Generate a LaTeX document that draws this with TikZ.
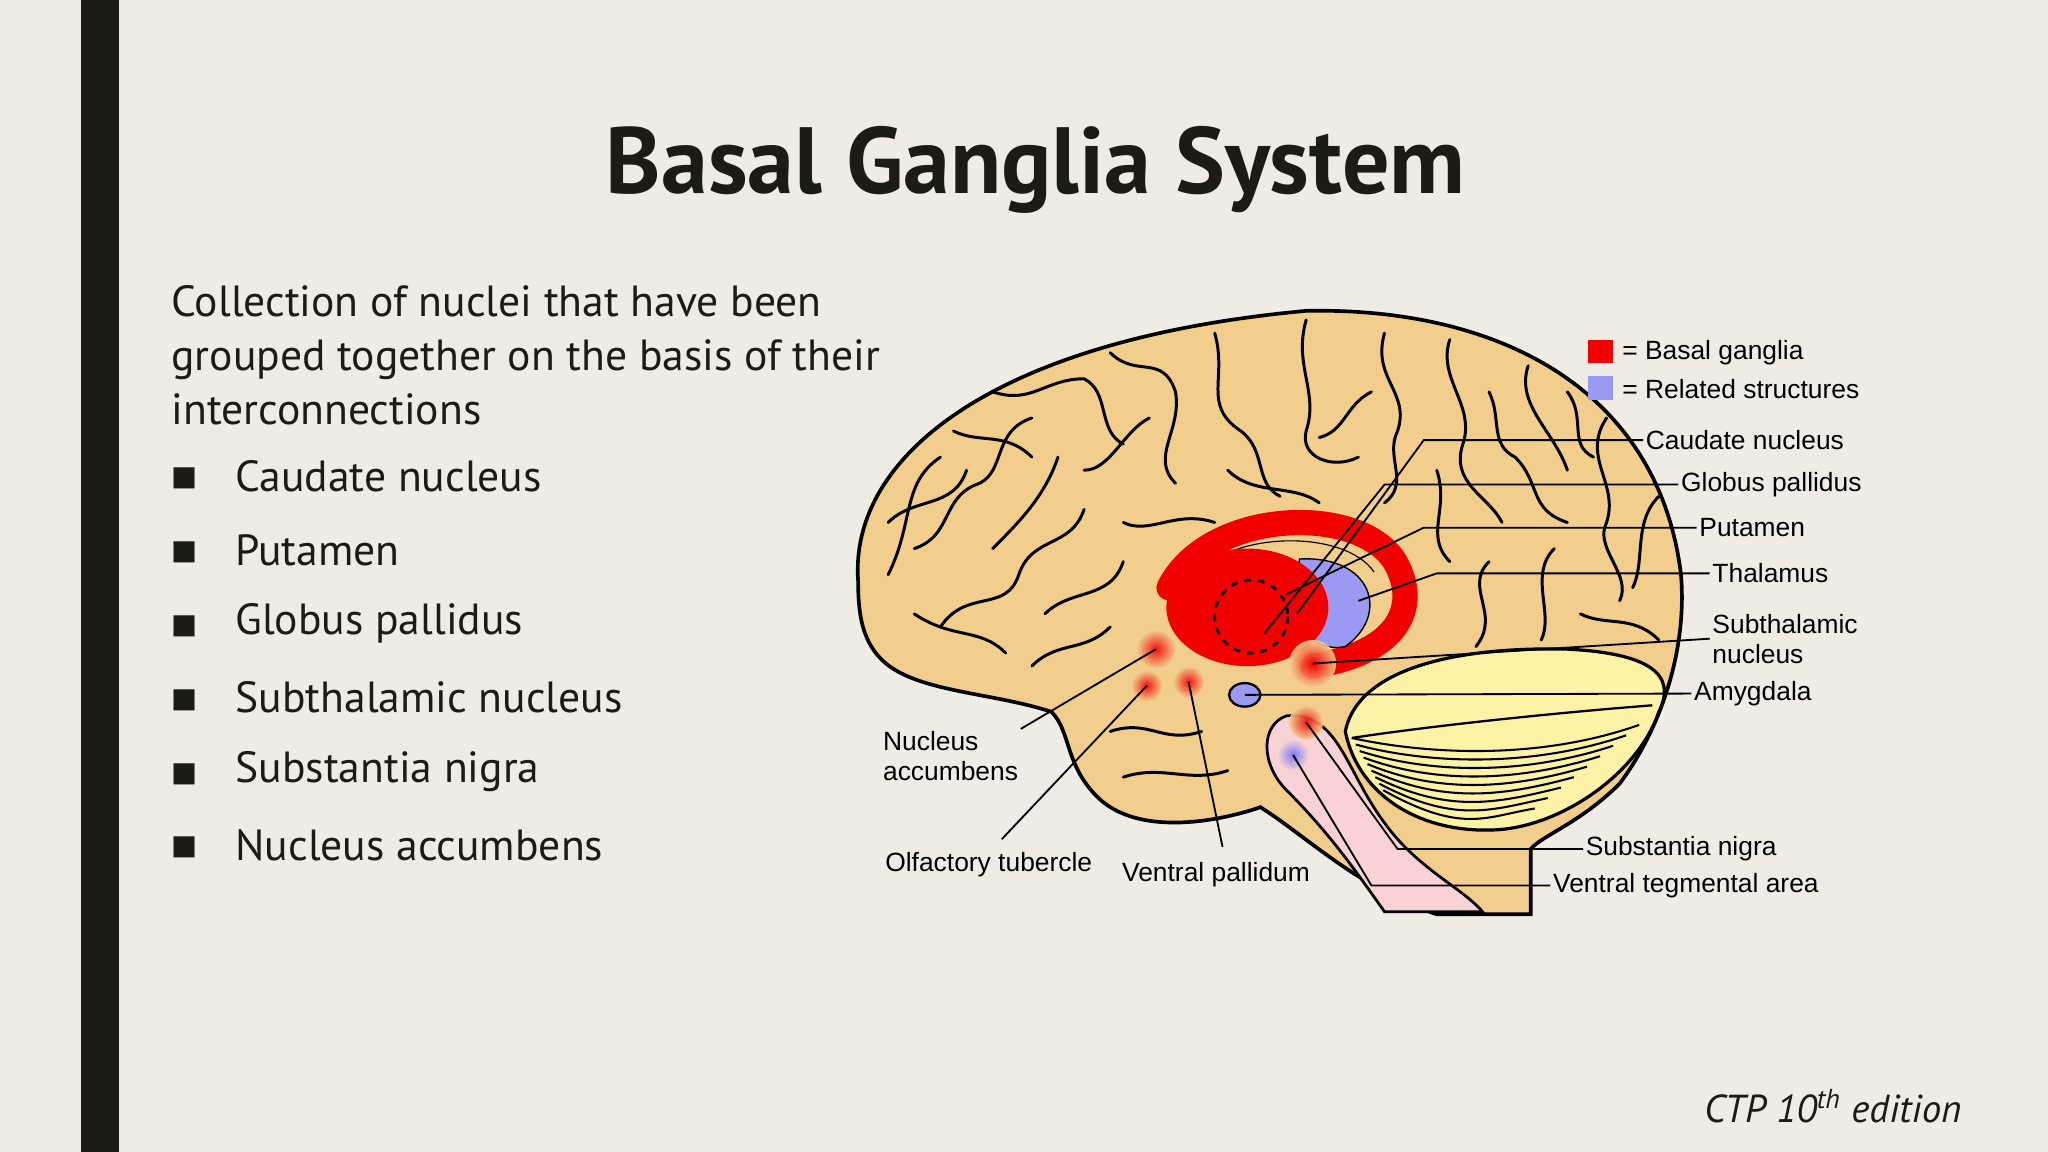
\documentclass[tikz,border=0pt]{standalone}
\usepackage{fontspec}
\setmainfont{PT Sans}
\newfontfamily\lab{Liberation Sans}
\newfontfamily\dv{DejaVu Sans}
\definecolor{bg}{HTML}{EFECE6}
\definecolor{tan}{HTML}{F2CE8C}
\definecolor{cbl}{HTML}{FDF3A6}
\definecolor{stem}{HTML}{F8D2D4}
\definecolor{bgred}{HTML}{F20000}
\definecolor{rblue}{HTML}{9A9AF2}
\definecolor{ink}{HTML}{1C1C14}
\begin{document}
\begin{tikzpicture}[x=0.02cm,y=-0.02cm,
  body/.style={anchor=west,font=\fontsize{19}{23.5}\selectfont,text=ink,inner sep=0},
  lbl/.style={font=\lab\fontsize{11.5}{13}\selectfont,inner sep=1pt},
  gy/.style={line width=1.3pt,line cap=round,line join=round},
  ll/.style={line width=0.8pt}]
\fill[bg] (0,0) rectangle (1568,882);
\useasboundingbox (0,0) rectangle (1568,882);
\fill[ink] (62,0) rectangle (91,882);
\node[font=\fontsize{41}{46}\bfseries\selectfont,text=ink] (title) at (793,130) {Basal Ganglia System};
\node[body,align=left,anchor=north west] (intro) at (131,218) {Collection of nuclei that have been\\grouped together on the basis of their\\interconnections};
\foreach \t [count=\i] in {Caudate nucleus,Putamen,Globus pallidus,Subthalamic nucleus,Substantia nigra,Nucleus accumbens}{
  \node[body] (b\i) at (180,308+56.5*\i) {\t};
  \node[anchor=center,text=ink,font=\dv\fontsize{12}{12}\selectfont] (m\i) at (141,310+56.5*\i) {■};
}
\node[font=\itshape\fontsize{17}{20}\selectfont,anchor=east,text=ink] (foot) at (1508,847) {CTP 10\textsuperscript{th} edition};
% brain
\draw[fill=tan,line width=1.6pt] (657,445) .. controls (650,350) and (760,260) .. (1000,238)
 .. controls (1150,235) and (1270,300) .. (1287,440) .. controls (1292,500) and (1270,560) .. (1240,600)
 .. controls (1210,630) and (1180,640) .. (1172,650) -- (1172,700) -- (1100,700)
 .. controls (1040,680) and (1000,640) .. (965,618) .. controls (930,630) and (870,640) .. (840,610)
 .. controls (815,585) and (820,560) .. (805,545) .. controls (760,530) and (700,530) .. (675,505)
 .. controls (660,490) and (657,470) .. (657,445) -- cycle;
% gyri
\foreach \p in {
 {(680,440) .. controls (700,400) and (690,370) .. (720,350)},
 {(700,420) .. controls (730,410) and (720,380) .. (750,370) .. controls (770,360) and (760,330) .. (790,320)},
 {(720,480) .. controls (740,450) and (770,470) .. (780,440) .. controls (790,410) and (820,420) .. (830,390)},
 {(760,300) .. controls (790,310) and (800,290) .. (830,290) .. controls (850,300) and (840,330) .. (860,340)},
 {(850,270) .. controls (870,290) and (890,270) .. (900,300) .. controls (905,330) and (880,350) .. (900,370)},
 {(930,255) .. controls (940,290) and (920,310) .. (950,330) .. controls (970,345) and (960,370) .. (980,380)},
 {(1000,245) .. controls (990,280) and (1010,300) .. (1000,330) .. controls (995,350) and (1020,360) .. (1040,350)},
 {(1060,255) .. controls (1050,290) and (1080,300) .. (1070,330) .. controls (1060,350) and (1080,370) .. (1060,385)},
 {(1110,260) .. controls (1100,290) and (1130,310) .. (1120,340) .. controls (1110,370) and (1140,380) .. (1150,400)},
 {(1170,280) .. controls (1160,310) and (1190,330) .. (1200,360)},
 {(1230,320) .. controls (1210,350) and (1240,370) .. (1230,400) .. controls (1220,420) and (1250,440) .. (1240,460)},
 {(1270,380) .. controls (1250,400) and (1260,430) .. (1250,450)},
 {(1190,420) .. controls (1170,440) and (1190,470) .. (1180,490)},
 {(1140,430) .. controls (1120,450) and (1150,470) .. (1130,495)},
 {(700,470) .. controls (730,490) and (750,480) .. (770,500)},
 {(800,470) .. controls (820,450) and (850,460) .. (860,430)},
 {(860,400) .. controls (880,410) and (900,390) .. (930,400)},
 {(1100,360) .. controls (1110,390) and (1090,410) .. (1110,430)},
 {(1160,350) .. controls (1180,370) and (1170,390) .. (1200,400)},
 {(1210,470) .. controls (1230,480) and (1250,470) .. (1270,490)},
 {(850,560) .. controls (880,550) and (890,570) .. (920,560)},
 {(860,595) .. controls (890,585) and (910,600) .. (940,590)},
 {(730,330) .. controls (750,340) and (770,330) .. (790,350)},
 {(880,320) .. controls (860,330) and (850,360) .. (830,360)},
 {(680,400) .. controls (700,380) and (730,390) .. (740,360)},
 {(760,420) .. controls (780,400) and (800,380) .. (810,350)},
 {(940,360) .. controls (960,380) and (990,370) .. (1010,385)},
 {(1140,300) .. controls (1150,320) and (1140,340) .. (1160,350)},
 {(1200,300) .. controls (1215,320) and (1200,340) .. (1220,350)},
 {(790,510) .. controls (810,490) and (830,500) .. (850,480)},
 {(1050,300) .. controls (1030,310) and (1030,330) .. (1010,335)}
}{\draw[gy] \p;}
% cerebellum
\draw[fill=cbl,line width=1.4pt] (1030,560) .. controls (1040,510) and (1120,495) .. (1200,497)
 .. controls (1260,500) and (1285,515) .. (1270,545) .. controls (1255,590) and (1200,630) .. (1150,635)
 .. controls (1090,640) and (1040,610) .. (1030,560) -- cycle;
\foreach \k in {0,...,8}{\draw[line width=0.9pt] (1035+\k*3,565+\k*5) .. controls (1080+\k*5,575+\k*8) and (1170-\k*4,585+\k*5) .. (1255-\k*10,555+\k*8);}
\draw[line width=1pt] (1035,565) .. controls (1100,555) and (1200,545) .. (1265,540);
% brainstem
\draw[fill=stem,line width=1.2pt] (985,548) .. controls (1025,545) and (1030,590) .. (1060,630)
 .. controls (1085,665) and (1120,680) .. (1135,698) -- (1060,698)
 .. controls (1040,670) and (1020,640) .. (985,605) .. controls (965,585) and (965,555) .. (985,548) -- cycle;
% basal ganglia
\draw[bgred,line width=11pt,line cap=round] (895,450) .. controls (925,390) and (1040,385) .. (1068,430) .. controls (1088,465) and (1070,500) .. (1005,510);
\draw[black,line width=0.5pt] (910,445) .. controls (940,405) and (1030,405) .. (1052,438);
\fill[rblue,draw=black,line width=0.6pt] (995,428) .. controls (1050,425) and (1065,470) .. (1030,495) .. controls (1010,500) and (985,480) .. (990,460) -- cycle;
\fill[bgred] (955,465) ellipse (62 and 45);
\draw[dashed,line width=1.2pt] (958,472) circle (28);
\foreach \x/\y/\r in {885/497/15,878/525/12,910/522/12,1005/508/18,1000/553/13}{\shade[inner color=bgred,outer color=tan,opacity=0.9] (\x,\y) circle (\r);}
\shade[inner color=rblue!80!blue,outer color=stem] (990,578) circle (12);
\draw[fill=rblue,line width=1pt] (953,532) ellipse (12 and 9);
% legend
\fill[bgred] (1216,260) rectangle (1235,278);
\fill[rblue] (1216,288) rectangle (1235,306);
\node[lbl,anchor=west] (lg1) at (1240,270) {= Basal ganglia};
\node[lbl,anchor=west] (lg2) at (1240,298) {= Related structures};
% labels
\node[lbl,anchor=west] (cn) at (1258,337) {Caudate nucleus};
\node[lbl,anchor=west] (gp) at (1285,371) {Globus pallidus};
\node[lbl,anchor=west] (pu) at (1299,404) {Putamen};
\node[lbl,anchor=west] (th) at (1309,439) {Thalamus};
\node[lbl,anchor=west,align=left] (st) at (1309,489) {Subthalamic\\nucleus};
\node[lbl,anchor=west] (am) at (1295,531) {Amygdala};
\node[lbl,anchor=west] (sn) at (1212,650) {Substantia nigra};
\node[lbl,anchor=west] (vt) at (1187,678) {Ventral tegmental area};
\node[lbl,align=left,anchor=west] (na) at (674,579) {Nucleus\\accumbens};
\node[lbl] (ot) at (757,662) {Olfactory tubercle};
\node[lbl] (vp) at (931,670) {Ventral pallidum};
\coordinate (ccn) at (993,470);\coordinate (cgp) at (968,485);\coordinate (cpu) at (985,455);
\coordinate (cth) at (1040,460);\coordinate (cst) at (1005,508);\coordinate (cam) at (953,532);
\coordinate (csn) at (1000,553);\coordinate (cvt) at (990,578);\coordinate (cna) at (885,497);
\coordinate (cot) at (878,525);\coordinate (cvp) at (910,522);
\draw[ll] (cn.west) -- (1090,337) -- (ccn);
\draw[ll] (gp.west) -- (1060,371) -- (cgp);
\draw[ll] (pu.west) -- (1090,404) -- (cpu);
\draw[ll] (th.west) -- (1100,439) -- (cth);
\draw[ll] (st.west) -- (cst);
\draw[ll] (am.west) -- (cam);
\draw[ll] (sn.west) -- (1070,650) -- (csn);
\draw[ll] (vt.west) -- (1050,678) -- (cvt);
\draw[ll] (na.north east) -- (cna);
\draw[ll] (ot.north) ++(10,-8) -- (cot);
\draw[ll] (vp.north) ++(5,-10) -- (cvp);
\end{tikzpicture}
\end{document}
